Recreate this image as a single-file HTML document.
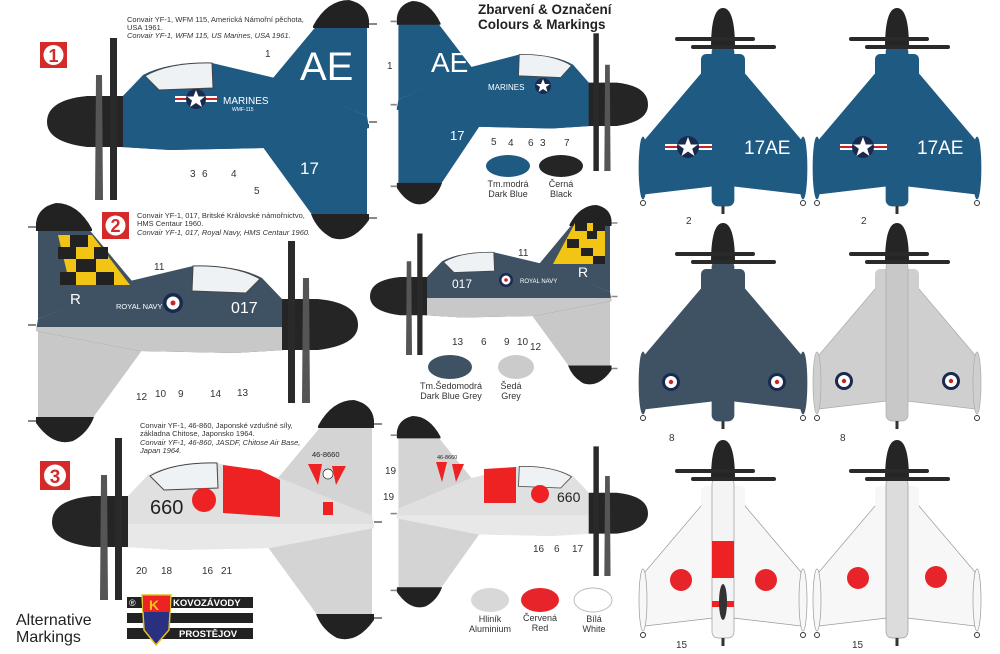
<!DOCTYPE html>
<html><head><meta charset="utf-8"><style>
html,body{margin:0;padding:0;background:#fff}
svg{display:block}
text{font-family:"Liberation Sans",sans-serif}
</style></head><body>
<svg width="1000" height="654" viewBox="0 0 1000 654" xmlns="http://www.w3.org/2000/svg">
<defs>
<g id="side">
  <!-- lower fin -->
  <path d="M215,26 L266,96 L320,96 L320,6 Z" fill="var(--lfin)"/>
  <path d="M264,94 L322,94 L322,100 Q305,124 285,118 Q270,110 264,94 Z" fill="#222"/>
  <!-- upper fin -->
  <path d="M226,-42 L271,-96 L320,-96 L320,-4 Z" fill="var(--fin)"/>
  <path d="M266,-94 Q280,-120 302,-120 Q320,-116 322,-100 L322,-92 L266,-92 Z" fill="#222"/>
  <!-- fuselage -->
  <path d="M74,-22 L96,-45 Q120,-58 165,-57 L228,-42 L320,-4 L322,8 L218,28 L123,30 L74,27 Z" fill="var(--body)"/>
  <path d="M74,4 L322,4 L322,8 L218,28 L123,30 L74,27 Z" fill="var(--belly)"/>
  <path d="M98,-44 Q122,-58 165,-57 L166,-32 L112,-30 Z" fill="#eef2f4" stroke="#444" stroke-width="1"/>
  <line x1="322" y1="-96" x2="330" y2="-96" stroke="#888" stroke-width="2"/>
  <line x1="322" y1="2" x2="330" y2="2" stroke="#888" stroke-width="2"/>
  <line x1="322" y1="98" x2="330" y2="98" stroke="#888" stroke-width="2"/>
  <!-- nose -->
  <path d="M76,-24 L40,-24 Q0,-20 0,2 Q0,22 40,27 L76,27 Z" fill="#252525"/>
  <!-- prop -->
  <path d="M49,-45 L55,-45 L56,80 L48,80 Z" fill="#555"/>
  <rect x="63" y="-82" width="7" height="162" fill="#2a2a2a"/>
</g>
<g id="plan">
  <path d="M-22,66 L-78,132 L-78,186 L-10,178 L10,178 L78,186 L78,132 L22,66 Z" fill="var(--wing)" stroke="var(--edge)" stroke-width="0.7"/>
  <rect x="-22" y="46" width="44" height="24" rx="5" fill="var(--wing)"/>
  <rect x="-11" y="38" width="22" height="160" rx="6" fill="var(--body)" stroke="var(--edge)" stroke-width="0.7"/>
  <ellipse cx="-80" cy="160" rx="4" ry="31" fill="var(--wing)" stroke="var(--edge)" stroke-width="0.7"/>
  <ellipse cx="80" cy="160" rx="4" ry="31" fill="var(--wing)" stroke="var(--edge)" stroke-width="0.7"/>
  <rect x="-8" y="44" width="16" height="var(--cl)" fill="#222"/>
  <path d="M-12,40 Q-12,0 0,0 Q12,0 12,40 Z" fill="#252525"/>
  <rect x="-48" y="29" width="80" height="4" rx="2" fill="#2a2a2a"/>
  <rect x="-32" y="37" width="85" height="4" rx="2" fill="#2a2a2a"/>
  <circle cx="-80" cy="195" r="2.5" fill="none" stroke="#333"/>
  <circle cx="80" cy="195" r="2.5" fill="none" stroke="#333"/>
  <rect x="-1.5" y="198" width="3" height="8" fill="#333"/>
</g>
</defs>

<!-- Row 1 -->
<g style="--body:#1f5a82;--fin:#1f5a82;--lfin:#1f5a82;--belly:#1f5a82">
  <use href="#side" transform="translate(47,120)"/>
  <use href="#side" transform="translate(648,103) scale(-0.78,0.85)"/>
</g>
<text x="300" y="80" font-size="40" fill="#fff">AE</text>
<text x="300" y="174" font-size="17" fill="#fff">17</text>
<text x="223" y="104" font-size="10" fill="#fff">MARINES</text>
<text x="232" y="111" font-size="5" fill="#fff">WMF-115</text>
<rect x="175" y="96" width="42" height="6" fill="#fff"/><rect x="175" y="98" width="42" height="2" fill="#c22"/>
<circle cx="196" cy="99" r="10" fill="#1a2a4f"/><polygon points="196,90 198.5,96.5 205,96.5 200,100.5 202,107 196,103 190,107 192,100.5 187,96.5 193.5,96.5" fill="#fff"/>
<text x="431" y="72" font-size="28" fill="#fff">AE</text>
<text x="450" y="140" font-size="13" fill="#fff">17</text>
<text x="488" y="90" font-size="8" fill="#fff">MARINES</text>
<circle cx="543" cy="86" r="8" fill="#1a2a4f"/><polygon points="543,79 545,84 550,84 546,87 547.5,92 543,89 538.5,92 540,87 536,84 541,84" fill="#fff"/>

<text x="127" y="22" font-size="7.5" fill="#333">Convair YF-1, WFM 115, Americká Námořní pěchota,</text>
<text x="127" y="30" font-size="7.5" fill="#333">USA 1961.</text>
<text x="127" y="38" font-size="7.5" fill="#333" font-style="italic">Convair YF-1, WFM 115, US Marines, USA 1961.</text>
<rect x="40" y="42" width="27" height="26" fill="#d42a2a"/><circle cx="53.5" cy="55" r="10" fill="#fff"/><text x="53.5" y="62" font-size="18" font-weight="bold" text-anchor="middle" fill="#d42a2a" font-family="Liberation Serif">1</text>
<text x="478" y="14" font-size="13.5" font-weight="bold" fill="#222">Zbarvení &amp; Označení</text>
<text x="478" y="29" font-size="13.5" font-weight="bold" fill="#222">Colours &amp; Markings</text>
<g font-size="10" fill="#333">
<text x="265" y="57">1</text><text x="190" y="177">3</text><text x="202" y="177">6</text><text x="231" y="177">4</text><text x="254" y="194">5</text>
<text x="387" y="69">1</text><text x="491" y="145">5</text><text x="508" y="146">4</text><text x="528" y="146">6</text><text x="540" y="146">3</text><text x="564" y="146">7</text>
</g>
<ellipse cx="508" cy="166" rx="22" ry="11" fill="#1f5a82"/>
<ellipse cx="561" cy="166" rx="22" ry="11" fill="#252525"/>
<g font-size="9" fill="#333" text-anchor="middle"><text x="508" y="187">Tm.modrá</text><text x="508" y="197">Dark Blue</text><text x="561" y="187">Černá</text><text x="561" y="197">Black</text></g>

<!-- Row 2 -->
<g style="--body:#3e5264;--fin:#3e5264;--lfin:#c8c8c8;--belly:#c8c8c8">
  <use href="#side" transform="translate(358,323) scale(-1,1)"/>
  <use href="#side" transform="translate(370,295) scale(0.75,0.75)"/>
</g>
<path d="M58,235 L92,235 L130,285 L70,285 Z" fill="#f2c413"/>
<g fill="#222"><rect x="70" y="235" width="18" height="12"/><rect x="58" y="247" width="18" height="12"/><rect x="94" y="247" width="14" height="12"/><rect x="76" y="259" width="20" height="13"/><rect x="60" y="272" width="16" height="13"/><rect x="96" y="272" width="18" height="13"/></g>
<path d="M553,264 L575,223 L605,223 L605,264 Z" fill="#f2c413"/>
<g fill="#222"><rect x="575" y="223" width="12" height="8"/><rect x="593" y="223" width="12" height="8"/><rect x="567" y="239" width="12" height="9"/><rect x="587" y="231" width="10" height="8"/><rect x="581" y="248" width="12" height="8"/><rect x="593" y="256" width="12" height="8"/></g>
<text x="70" y="304" font-size="15" fill="#fff">R</text>
<text x="116" y="309" font-size="7.5" fill="#fff">ROYAL NAVY</text>
<circle cx="173" cy="303" r="10" fill="#1a2a4f"/><circle cx="173" cy="303" r="6.5" fill="#fff"/><circle cx="173" cy="303" r="2.5" fill="#c22"/>
<text x="231" y="313" font-size="16" fill="#fff">017</text>
<text x="452" y="288" font-size="12" fill="#fff">017</text>
<text x="520" y="283" font-size="6" fill="#fff">ROYAL NAVY</text>
<circle cx="506" cy="280" r="7" fill="#1a2a4f"/><circle cx="506" cy="280" r="4.5" fill="#fff"/><circle cx="506" cy="280" r="1.8" fill="#c22"/>
<text x="578" y="277" font-size="14" fill="#fff">R</text>
<text x="137" y="218" font-size="7.5" fill="#333">Convair YF-1, 017, Britské Královské námořnictvo,</text>
<text x="137" y="226" font-size="7.5" fill="#333">HMS Centaur 1960.</text>
<text x="137" y="235" font-size="7.5" fill="#333" font-style="italic">Convair YF-1, 017, Royal Navy, HMS Centaur 1960.</text>
<rect x="102" y="212" width="27" height="27" fill="#d42a2a"/><circle cx="115.5" cy="225.5" r="10" fill="#fff"/><text x="115.5" y="232" font-size="18" font-weight="bold" text-anchor="middle" fill="#d42a2a" font-family="Liberation Serif">2</text>
<g font-size="10" fill="#333">
<text x="154" y="270">11</text><text x="136" y="400">12</text><text x="155" y="397">10</text><text x="178" y="397">9</text><text x="210" y="397">14</text><text x="237" y="396">13</text>
<text x="518" y="256">11</text><text x="452" y="345">13</text><text x="481" y="345">6</text><text x="504" y="345">9</text><text x="517" y="345">10</text><text x="530" y="350">12</text>
</g>
<ellipse cx="450" cy="367" rx="22" ry="12" fill="#3e5264"/>
<ellipse cx="516" cy="367" rx="18" ry="12" fill="#cbcbcb"/>
<g font-size="9" fill="#333" text-anchor="middle"><text x="451" y="389">Tm.Šedomodrá</text><text x="451" y="399">Dark Blue Grey</text><text x="511" y="389">Šedá</text><text x="511" y="399">Grey</text></g>

<!-- Row 3 -->
<g style="--body:#e0e0e0;--fin:#d4d4d4;--lfin:#d4d4d4;--belly:#e8e8e8">
  <use href="#side" transform="translate(52,520)"/>
  <use href="#side" transform="translate(648,512) scale(-0.78,0.8)"/>
</g>
<path d="M223,465 L260,470 L280,480 L280,517 L223,513 Z" fill="#e22"/>
<rect x="323" y="502" width="10" height="13" fill="#e22"/>
<circle cx="204" cy="500" r="12" fill="#e22"/>
<text x="150" y="514" font-size="20" fill="#222">660</text>
<text x="312" y="457" font-size="7.5" fill="#222">46-8660</text>
<path d="M308,464 L322,464 L318,485 Z M332,466 L346,466 L336,485 Z" fill="#e22"/>
<circle cx="328" cy="474" r="5" fill="#fff" stroke="#222" stroke-width="0.7"/>
<path d="M484,469 L516,467 L516,503 L484,503 Z" fill="#e22"/>
<circle cx="540" cy="494" r="9" fill="#e22"/>
<text x="557" y="502" font-size="14" fill="#222">660</text>
<path d="M436,462 L447,462 L442,482 Z M452,464 L464,464 L456,482 Z" fill="#e22"/>
<text x="437" y="459" font-size="5.5" fill="#222">46-8660</text>
<text x="140" y="428" font-size="7.5" fill="#333">Convair YF-1, 46-860, Japonské vzdušné síly,</text>
<text x="140" y="436" font-size="7.5" fill="#333">základna Chitose, Japonsko 1964.</text>
<text x="140" y="445" font-size="7.5" fill="#333" font-style="italic">Convair YF-1, 46-860, JASDF, Chitose Air Base,</text>
<text x="140" y="453" font-size="7.5" fill="#333" font-style="italic">Japan 1964.</text>
<rect x="40" y="461" width="30" height="29" fill="#d42a2a"/><circle cx="55" cy="475.5" r="11" fill="#fff"/><text x="55" y="483" font-size="19" font-weight="bold" text-anchor="middle" fill="#d42a2a" font-family="Liberation Serif">3</text>
<g font-size="10" fill="#333">
<text x="136" y="574">20</text><text x="161" y="574">18</text><text x="202" y="574">16</text><text x="221" y="574">21</text><text x="383" y="500">19</text>
<text x="385" y="474">19</text><text x="533" y="552">16</text><text x="554" y="552">6</text><text x="572" y="552">17</text>
</g>
<ellipse cx="490" cy="600" rx="19" ry="12" fill="#d8d8d8"/>
<ellipse cx="540" cy="600" rx="19" ry="12" fill="#e8242b"/>
<ellipse cx="593" cy="600" rx="19" ry="12" fill="#fff" stroke="#bbb"/>
<g font-size="9" fill="#333" text-anchor="middle"><text x="490" y="622">Hliník</text><text x="490" y="632">Aluminium</text><text x="540" y="621">Červená</text><text x="540" y="631">Red</text><text x="594" y="622">Bílá</text><text x="594" y="632">White</text></g>
<text x="16" y="625" font-size="16" fill="#222">Alternative</text>
<text x="16" y="642" font-size="16" fill="#222">Markings</text>
<rect x="127" y="597" width="20" height="11" fill="#222"/><text x="129" y="606" font-size="9" fill="#fff">®</text>
<rect x="170" y="597" width="83" height="11" fill="#222"/><text x="173" y="606" font-size="9.5" font-weight="bold" fill="#fff">KOVOZÁVODY</text>
<rect x="127" y="613" width="126" height="10" fill="#222"/>
<rect x="127" y="628" width="126" height="11" fill="#222"/><text x="179" y="637" font-size="9.5" font-weight="bold" fill="#fff">PROSTĚJOV</text>
<path d="M142,595 L171,595 L169,630 L156,645 L144,630 Z" fill="#2a3080" stroke="#e8c020" stroke-width="1.5"/>
<rect x="143" y="596" width="27" height="16" fill="#e22"/><text x="149" y="610" font-size="14" font-weight="bold" fill="#f2c413">K</text>

<!-- Plan views -->
<g style="--body:#1f5a82;--wing:#1f5a82;--edge:#1f5a82;--cl:56px">
  <use href="#plan" transform="translate(723,8)"/>
</g>
<g style="--body:#1f5a82;--wing:#1f5a82;--edge:#1f5a82;--cl:0px">
  <use href="#plan" transform="translate(897,8)"/>
</g>
<g style="--body:#3e5264;--wing:#3e5264;--edge:#3e5264;--cl:52px"><use href="#plan" transform="translate(723,223)"/></g>
<g style="--body:#c8c8c8;--wing:#cfcfcf;--edge:#aaa;--cl:0px"><use href="#plan" transform="translate(897,223)"/></g>
<g style="--body:#f4f4f4;--wing:#f7f7f7;--edge:#999;--cl:52px"><use href="#plan" transform="translate(723,440)"/></g>
<g style="--body:#dcdcdc;--wing:#f7f7f7;--edge:#999;--cl:0px"><use href="#plan" transform="translate(897,440)"/></g>
<rect x="712" y="541" width="22" height="37" fill="#e22"/>
<rect x="712" y="601" width="22" height="6" fill="#e22"/>
<ellipse cx="723" cy="602" rx="4" ry="18" fill="#333"/>
<g>
<rect x="665" y="144" width="47" height="6" fill="#fff"/><rect x="665" y="146" width="47" height="2" fill="#c22"/>
<circle cx="688" cy="147" r="11" fill="#1a2a4f"/><polygon points="688,137 690.8,144.5 698,144.5 692.2,148.8 694.5,156 688,151.5 681.5,156 683.8,148.8 678,144.5 685.2,144.5" fill="#fff"/>
<rect x="840" y="144" width="47" height="6" fill="#fff"/><rect x="840" y="146" width="47" height="2" fill="#c22"/>
<circle cx="863" cy="147" r="11" fill="#1a2a4f"/><polygon points="863,137 865.8,144.5 873,144.5 867.2,148.8 869.5,156 863,151.5 856.5,156 858.8,148.8 853,144.5 860.2,144.5" fill="#fff"/>
</g>
<text x="744" y="154" font-size="19" fill="#fff">17AE</text>
<text x="917" y="154" font-size="19" fill="#fff">17AE</text>
<g fill="#1a2a4f"><circle cx="671" cy="382" r="9"/><circle cx="777" cy="382" r="9"/><circle cx="844" cy="381" r="9"/><circle cx="951" cy="381" r="9"/></g>
<g fill="#fff"><circle cx="671" cy="382" r="6"/><circle cx="777" cy="382" r="6"/><circle cx="844" cy="381" r="6"/><circle cx="951" cy="381" r="6"/></g>
<g fill="#c22"><circle cx="671" cy="382" r="2.2"/><circle cx="777" cy="382" r="2.2"/><circle cx="844" cy="381" r="2.2"/><circle cx="951" cy="381" r="2.2"/></g>
<g fill="#e8242b"><circle cx="681" cy="580" r="11"/><circle cx="766" cy="580" r="11"/><circle cx="858" cy="578" r="11"/><circle cx="936" cy="577" r="11"/></g>
<g font-size="10" fill="#333"><text x="686" y="224">2</text><text x="861" y="224">2</text><text x="669" y="441">8</text><text x="840" y="441">8</text><text x="676" y="648">15</text><text x="852" y="648">15</text></g>
</svg>
</body></html>
